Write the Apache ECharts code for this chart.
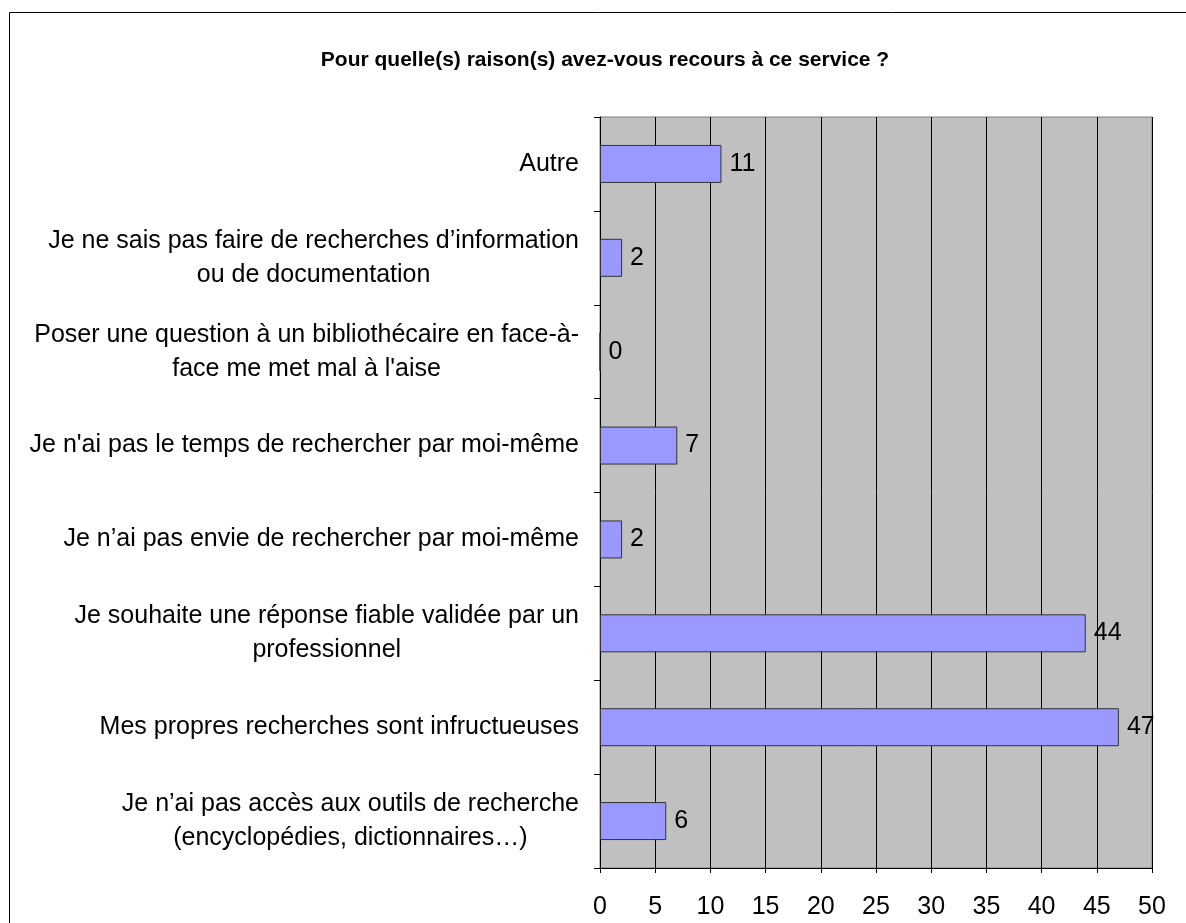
<!DOCTYPE html>
<html>
<head>
<meta charset="utf-8">
<script src="https://cdn.jsdelivr.net/npm/echarts@6/dist/echarts.min.js"></script>
<style>
  html, body { margin: 0; padding: 0; background: #fff; }
  #chart { width: 1186px; height: 923px; }
</style>
</head>
<body>
<div id="chart"></div>
<script>
// catégories, de haut en bas
const categories = [
  'Autre',
  'Je ne sais pas faire de recherches d’information\nou de documentation',
  'Poser une question à un bibliothécaire en face-à-\nface me met mal à l\'aise',
  'Je n\'ai pas le temps de rechercher par moi-même',
  'Je n’ai pas envie de rechercher par moi-même',
  'Je souhaite une réponse fiable validée par un\nprofessionnel',
  'Mes propres recherches sont infructueuses',
  'Je n’ai pas accès aux outils de recherche\n(encyclopédies, dictionnaires…)'
];
const values = [11, 2, 0, 7, 2, 44, 47, 6];
const xTicks = [0, 5, 10, 15, 20, 25, 30, 35, 40, 45, 50];

const chart = echarts.init(document.getElementById('chart'));

const font = 'Liberation Sans, Arial, sans-serif';

chart.setOption({
  animation: false,
  title: {
    text: 'Pour quelle(s) raison(s) avez-vous recours à ce service ?',
    left: 600,
    top: 45,
    textAlign: 'center',
    textStyle: { fontFamily: font, fontSize: 21, fontWeight: 'bold', color: '#000' }
  },
  graphic: [{
    type: 'rect',
    shape: { x: 9.5, y: 12.5, width: 1300, height: 1000 },
    style: { fill: 'none', stroke: '#000', lineWidth: 1 },
    silent: true
  }],
  grid: {
    left: 600, right: 34, top: 117, bottom: 55,
    show: true,
    backgroundColor: '#c0c0c0',
    borderColor: '#808080',
    borderWidth: 1
  },
  xAxis: {
    type: 'value',
    min: xTicks[0],
    max: xTicks[xTicks.length - 1],
    interval: 5,
    axisLine: { show: true, lineStyle: { color: '#000' } },
    axisTick: { show: true, length: 5, lineStyle: { color: '#000' } },
    splitLine: { show: true, lineStyle: { color: '#000', width: 1 } },
    axisLabel: { fontFamily: font, fontSize: 25, color: '#000', margin: 27 }
  },
  yAxis: {
    type: 'category',
    inverse: true,
    data: categories,
    axisLine: { show: true, lineStyle: { color: '#000' } },
    axisTick: { show: true, length: 6, lineStyle: { color: '#000' } },
    axisLabel: {
      margin: 21,
      interval: 0,
      fontFamily: font,
      fontSize: 25,
      color: '#000',
      lineHeight: 34,
      formatter: v => v.split('\n').map(l => '{c|' + l + '}').join('\n'),
      rich: { c: { align: 'center', fontFamily: font, fontSize: 25, lineHeight: 34, color: '#000' } }
    }
  },
  series: [{
    type: 'bar',
    data: values,
    barWidth: 38,
    itemStyle: { color: '#9999ff', borderColor: '#333', borderWidth: 1 },
    label: {
      show: true,
      position: 'right',
      distance: 8,
      fontFamily: font,
      fontSize: 25,
      color: '#000'
    }
  }]
});
</script>
</body>
</html>
